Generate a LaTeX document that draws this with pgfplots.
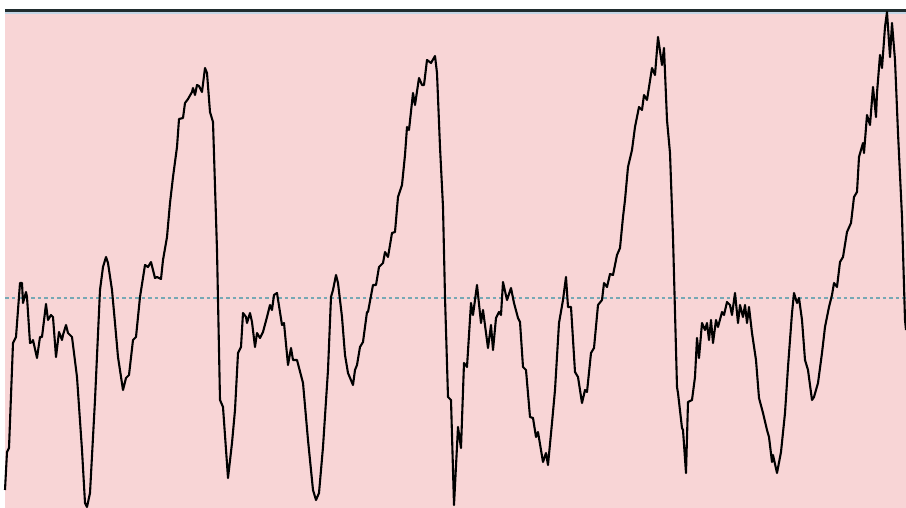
\documentclass[border=0pt]{standalone}
\usepackage{pgfplots}
\pgfplotsset{compat=1.18}
\definecolor{bgpink}{RGB}{248,213,214}
\definecolor{dashcol}{RGB}{118,168,180}
\definecolor{topdark}{RGB}{32,44,46}
\definecolor{toplight}{RGB}{196,214,230}
\begin{document}
\begin{tikzpicture}
\begin{axis}[
  scale only axis, width=906pt, height=508pt,
  xmin=0, xmax=906, ymin=0, ymax=508, y dir=reverse,
  axis lines=none, clip=true,
]
\path[use as bounding box] (axis cs:0,0) rectangle (axis cs:906,508);
\addplot[fill=bgpink, draw=none] coordinates {(5,12) (906,12) (906,508) (5,508)} -- cycle;
\addplot[toplight, line width=2.5pt] coordinates {(5,13) (906,13)};
\addplot[topdark, line width=3pt] coordinates {(5,10.2) (906,10.2)};
\addplot[dashcol, line width=1.8pt, dash pattern=on 3.5pt off 3pt] coordinates {(5,298) (906,298)};
\addplot[black, line width=2.1pt, line join=round] table {
x y
5 490
7 452
9 448
13 343
16 337
20 283
22 283
23 303
26 292
27 297
30 343
32 342
33 340
37 358
40 337
42 337
46 304
48 320
51 315
53 317
56 357
59 332
62 340
63 335
66 325
68 333
72 337
77 377
82 450
85 503
87 507
90 493
95 400
100 290
103 267
106 257
108 263
112 290
115 323
118 357
123 390
126 378
129 375
133 340
136 337
140 297
145 265
148 267
151 262
153 270
155 278
157 277
161 279
163 260
167 237
170 203
173 177
177 147
179 119
183 118
185 103
188 99
192 92
193 88
195 95
197 85
199 86
202 92
205 68
207 73
210 112
213 122
217 250
220 400
223 407
228 478
232 443
235 410
238 353
241 347
243 313
246 317
247 323
250 313
252 322
255 347
257 333
260 338
263 332
267 317
270 305
272 310
274 295
277 293
282 325
284 323
288 365
291 348
293 360
297 360
303 383
308 440
313 490
316 500
319 493
323 447
328 370
331 297
333 290
336 275
338 283
342 317
345 355
348 373
353 385
355 370
357 365
360 347
363 342
367 312
368 312
373 285
376 285
379 267
383 263
385 252
388 257
392 233
395 232
398 197
402 185
405 155
407 127
409 130
413 93
415 105
419 78
422 85
424 85
427 60
431 63
435 56
437 73
440 147
443 207
445 297
448 397
451 400
454 505
458 427
461 448
464 363
467 367
471 303
473 315
477 285
481 323
483 310
488 348
491 325
493 350
496 318
499 312
501 315
503 282
507 300
511 288
514 303
518 318
520 322
523 367
526 370
530 417
533 418
536 437
538 432
543 462
546 453
548 465
552 423
555 390
559 323
563 300
566 277
568 307
571 307
575 372
578 377
582 403
585 390
587 392
591 353
594 348
598 305
602 300
604 283
607 287
610 274
613 275
617 255
620 248
623 217
625 200
628 167
632 150
635 127
639 107
642 110
644 95
647 100
652 68
655 75
658 37
662 65
664 48
667 120
670 153
673 237
677 387
678 393
682 428
683 430
686 473
688 402
692 400
695 377
697 338
699 358
702 323
705 330
707 323
709 340
711 320
713 343
716 320
718 327
722 312
724 315
727 302
730 305
732 315
735 293
738 323
740 305
743 317
745 305
747 323
749 307
752 333
756 360
759 398
763 413
767 430
769 437
772 462
773 455
777 473
781 452
785 413
788 367
792 313
794 293
797 303
799 298
802 320
805 360
808 370
812 400
814 397
818 383
822 353
825 327
829 307
832 295
834 283
837 287
840 262
843 257
847 232
851 223
854 197
857 192
859 157
863 143
864 153
867 115
870 125
873 87
876 117
877 93
880 55
882 68
885 27
887 12
890 57
892 23
895 60
898 133
902 217
905 320
906 330
};
\end{axis}
\end{tikzpicture}
\end{document}
